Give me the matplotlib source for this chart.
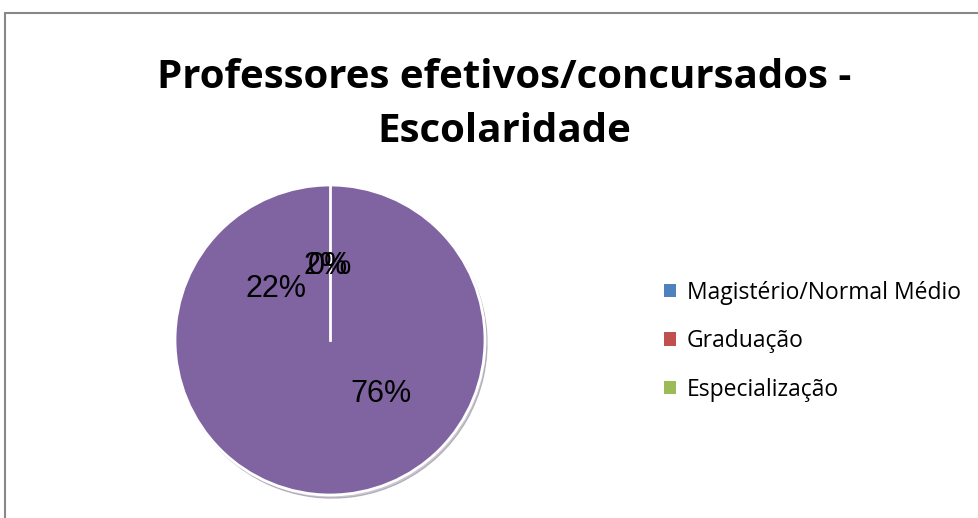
import numpy as np
import matplotlib.pyplot as plt
from matplotlib.patches import Patch, Rectangle, Circle

# data
categorias = ["Magistério/Normal Médio", "Graduação", "Especialização", ""]
valores = [0, 2, 22, 76]
cores_legenda = ["#4F81BD", "#C0504D", "#9BBB59"]
COR_FATIA = "#8064A2"
INICIO = 90

W, H = 979, 518
fig = plt.figure(figsize=(W / 100, H / 100), dpi=100)

# chart area border
fig.add_artist(Rectangle((5 / W, -0.1), 1.2, (H - 13) / H + 0.1, transform=fig.transFigure,
                         fill=False, edgecolor="#888888", linewidth=1.5))

fig.text(504 / W, 1 - 78 / H, "Professores efetivos/concursados -", ha="center", va="center",
         fontsize=29, fontweight="bold", family="Open Sans")
fig.text(504 / W, 1 - 132 / H, "Escolaridade", ha="center", va="center",
         fontsize=29, fontweight="bold", family="Open Sans")

# pie: centre (330, 340) px, radius 155 px
lim = 1.06
cx, cy, r = 330, 340, 155
half = r * lim
ax = fig.add_axes([(cx - half) / W, (H - cy - half) / H, 2 * half / W, 2 * half / H])
wedges, texts, autotexts = ax.pie(valores, startangle=INICIO, counterclock=True,
                                  colors=[COR_FATIA] * len(valores),
                                  autopct="%1.0f%%", pctdistance=0.48,
                                  wedgeprops=dict(linewidth=0.8, edgecolor=COR_FATIA),
                                  textprops=dict(fontsize=22, family="Liberation Sans", color="black"),
                                  shadow=dict(ox=0.01, oy=-0.015, shade=0.4, alpha=0.3))
for t in autotexts:
    t.set_zorder(5)
# white outline and the white radius of the empty first slice
ax.add_patch(Circle((0, 0), 1, fill=False, edgecolor="white", linewidth=2, zorder=3))
a = np.deg2rad(INICIO)
ax.plot([0, np.cos(a)], [0, np.sin(a)], color="white", linewidth=2, zorder=3)
ax.set_xlim(-lim, lim)
ax.set_ylim(-lim, lim)
ax.set_aspect("equal")
ax.axis("off")

handles = [Patch(facecolor=c, edgecolor="none") for c in cores_legenda]
fig.legend(handles, categorias[:3], loc="upper left", bbox_to_anchor=(643 / W, 1 - 260 / H),
           frameon=False, prop=dict(family="Open Sans", size=16.5), handlelength=0.55,
           handleheight=0.55, handletextpad=0.45, labelspacing=1.07)

fig.savefig("out.png", dpi=100)
